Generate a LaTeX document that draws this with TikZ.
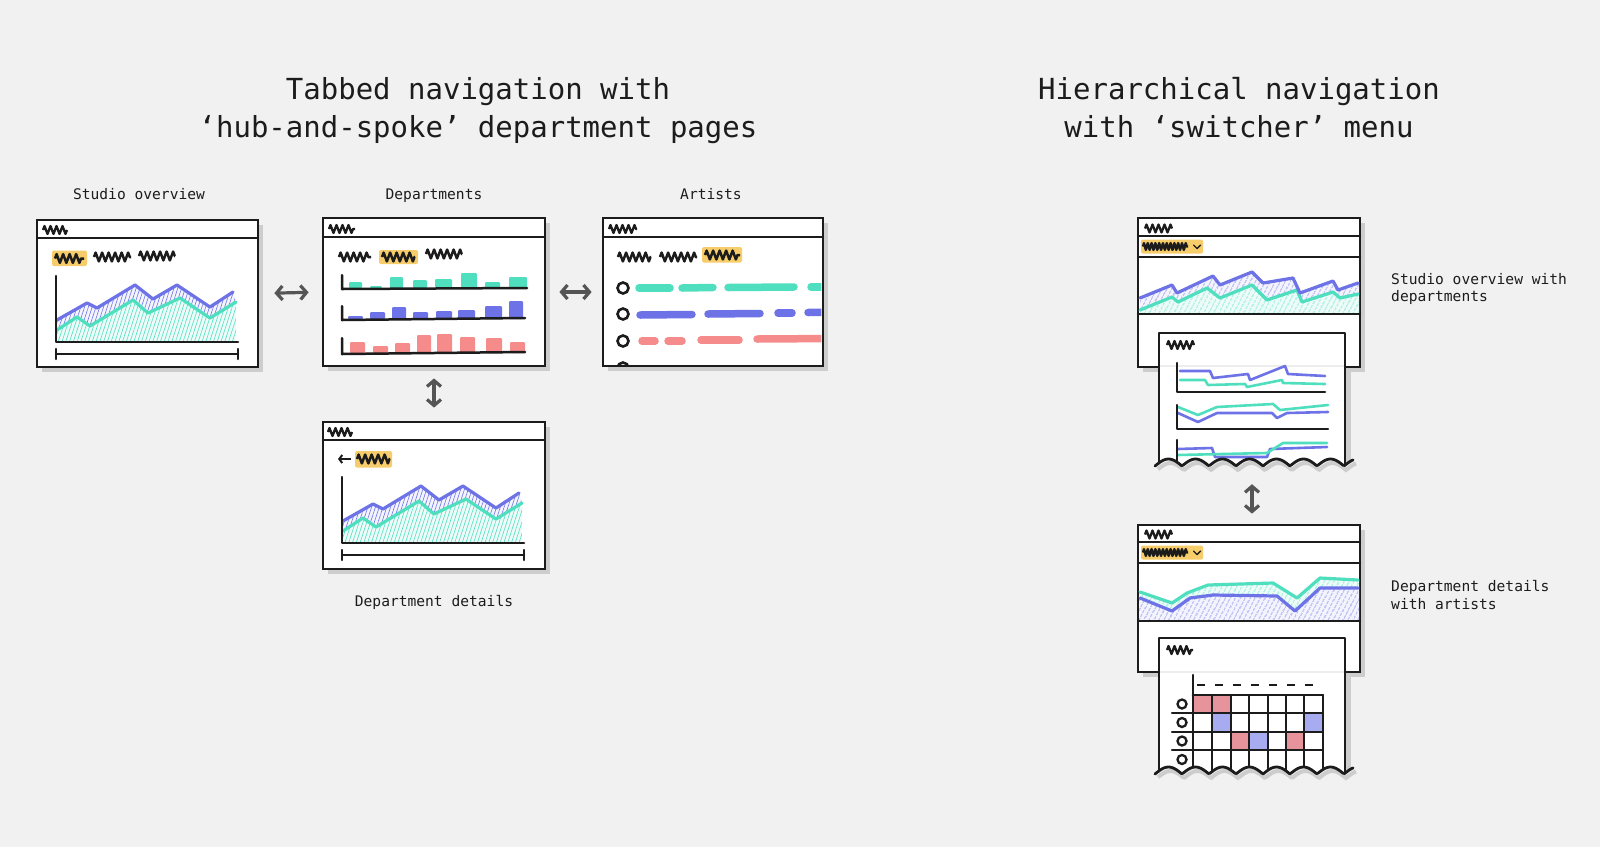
\documentclass[tikz,border=0pt]{standalone}
\usepackage{fontspec}
\setmainfont{DejaVu Sans Mono}
\setmonofont{DejaVu Sans Mono}
\usetikzlibrary{arrows.meta,decorations.pathmorphing,patterns.meta,shadows}

\definecolor{bgc}{HTML}{F1F1F1}
\definecolor{ink}{HTML}{1C1C1C}
\definecolor{tealc}{HTML}{4FDFBF}
\definecolor{purc}{HTML}{6D72E6}
\definecolor{redc}{HTML}{F58B8B}
\definecolor{yelc}{HTML}{F6CD6A}
\definecolor{arrc}{HTML}{555555}
\definecolor{shadc}{HTML}{CDCDCD}
\definecolor{cellr}{HTML}{E6939B}
\definecolor{cellb}{HTML}{A7ABF0}

\tikzset{
  winbox/.style={draw=ink, line width=2.8pt, fill=white, rectangle, inner sep=0pt,
    general shadow={fill=shadc, shadow xshift=5pt, shadow yshift=-5pt}},
  anchorbox/.style={rectangle, inner sep=0pt},
  rule/.style={draw=ink, line width=2.5pt, line cap=round, line join=round},
  thinrule/.style={draw=ink, line width=2.2pt, line cap=round},
  scrib/.style={draw=ink, line width=2.5pt, line join=round, decorate,
    decoration={zigzag, segment length=6.5pt, amplitude=4.4pt}},
  hdr/.style={draw=ink, line width=2.3pt, line join=round, decorate,
    decoration={zigzag, segment length=6pt, amplitude=4pt}},
  dense/.style={draw=ink, line width=2.4pt, line join=round, decorate,
    decoration={zigzag, segment length=3.8pt, amplitude=3.4pt}},
  hilite/.style={fill=yelc, rounded corners=2pt},
  navarrow/.style={draw=arrc, line width=3.2pt,
    {Straight Barb[length=6pt,width=14pt]}-{Straight Barb[length=6pt,width=14pt]}},
  pline/.style={draw=purc, line width=3.2pt, line join=round, line cap=round},
  tline/.style={draw=tealc, line width=3.2pt, line join=round, line cap=round},
  pthin/.style={draw=purc, line width=2.6pt, line join=round, line cap=round},
  tthin/.style={draw=tealc, line width=2.6pt, line join=round, line cap=round},
  hatchT/.style={pattern={Lines[angle=72,distance=3.6pt,line width=0.6pt]}, pattern color=tealc},
  hatchP/.style={pattern={Lines[angle=72,distance=3.6pt,line width=0.6pt]}, pattern color=purc},
  hatchTb/.style={pattern={Lines[angle=62,distance=4pt,line width=0.7pt]}, pattern color=tealc},
  hatchPb/.style={pattern={Lines[angle=62,distance=4pt,line width=0.7pt]}, pattern color=purc},
  dashrow/.style={line width=7.5pt, line cap=round},
  circ/.style={draw=ink, line width=2.6pt},
  sheetedge/.style={draw=ink, line width=2.8pt, line join=round, line cap=round},
  titlef/.style={font=\fontsize{29}{37.7}\selectfont, text=ink, align=center, inner sep=0pt},
  labf/.style={font=\fontsize{14.6}{17.6}\selectfont, text=ink, inner sep=0pt},
}

\newcommand\overviewchart{%
  \path[preaction={fill=tealc!10}, hatchT] (57,330) -- (77,317) -- (90,326) -- (133,300) -- (148,313) -- (180,298) -- (210,318) -- (236,302) -- (236,342) -- (57,342) -- cycle;
  \path[preaction={fill=purc!8}, hatchP] (57,320) -- (87,303) -- (97,308) -- (135,285) -- (153,299) -- (177,285) -- (210,307) -- (233,292) -- (236,302) -- (210,318) -- (180,298) -- (148,313) -- (133,300) -- (90,326) -- (77,317) -- (57,330) -- cycle;
  \draw[tline] (57,330) -- (77,317) -- (90,326) -- (133,300) -- (148,313) -- (180,298) -- (210,318) -- (236,302);
  \draw[pline] (57,320) -- (87,303) -- (97,308) -- (135,285) -- (153,299) -- (177,285) -- (210,307) -- (233,292);
  \draw[rule] (56,276) -- (56,342) -- (238,342);
  \draw[rule] (56,354) -- (238,354);
  \draw[rule] (56,349) -- (56,359);
  \draw[rule] (238,349) -- (238,359);
}
% torn bottom edge: arches with sharp valleys
\newcommand\tornY[2]{#2-7*abs(sin((#1-1155)*6.667))}

\begin{document}
\begin{tikzpicture}[x=1pt,y=-1pt]
\useasboundingbox (0,0) rectangle (1600,847);
\fill[bgc] (0,0) rectangle (1600,847);

% ---------- titles ----------
\node[titlef, anchor=north] (t1) at (478,77.3) {Tabbed navigation with\\‘hub-and-spoke’ department pages};
\node[titlef, anchor=north] (t2) at (1239,77.3) {Hierarchical navigation\\with ‘switcher’ menu};

% ---------- labels ----------
\node[labf, anchor=base] (lA) at (139,199) {Studio overview};
\node[labf, anchor=base] (lB) at (434,199) {Departments};
\node[labf, anchor=base] (lC) at (711,199) {Artists};
\node[labf, anchor=base] (lD) at (434,606) {Department details};
\node[labf, anchor=north west, align=left] (lE) at (1391,272.9) {Studio overview with\\departments};
\node[labf, anchor=north west, align=left] (lG) at (1391,580.6) {Department details\\with artists};

% ---------- A: studio overview ----------
\node[winbox, minimum width=221pt, minimum height=147pt] (A) at (147.5,293.5) {};
\draw[rule] (37,238) -- (258,238);
\draw[hdr] (43,230) -- (67,230);
\fill[hilite] (52,250.5) rectangle (87,266);
\draw[scrib] (55,258.5) -- (84,258.5);
\draw[scrib] (94,257) -- (131,257);
\draw[scrib] (139,256) -- (175,256);
\overviewchart

% ---------- B: departments ----------
\node[winbox, minimum width=222pt, minimum height=148pt] (B) at (434,292) {};
\draw[rule] (323,237) -- (545,237);
\draw[hdr] (329,229) -- (355,229);
\draw[scrib] (339,257) -- (371,257);
\fill[hilite] (379,250) rectangle (418,264);
\draw[scrib] (382,257) -- (415,257);
\draw[scrib] (426,254) -- (462,254);
\foreach \a/\b/\t in {349/362/282,370/382/286,390/403/277,413/427/280,435/452/279,461/477/273,485/500/282,509/527/277}
  \fill[tealc, rounded corners=1pt] (\a,\t) rectangle (\b,288);
\foreach \a/\b/\t in {348/363/316,370/385/312,392/406/307,413/428/312,436/452/311,458/475/310,485/502/306,509/523/301}
  \fill[purc, rounded corners=1pt] (\a,\t) rectangle (\b,319);
\foreach \a/\b/\t in {350/365/342,373/388/346,395/410/343,417/431/335,437/452/334,460/475/337,486/502/338,510/525/342}
  \fill[redc, rounded corners=1pt] (\a,\t) rectangle (\b,353);
\draw[rule] (342,275) -- (342,289) -- (527,288);
\draw[rule] (342,306) -- (342,320) -- (525,318);
\draw[rule] (342,338) -- (342,354) -- (525,352);

% ---------- C: artists ----------
\node[winbox, minimum width=220pt, minimum height=148pt] (C) at (713,292) {};
\draw[rule] (603,237) -- (823,237);
\draw[hdr] (609,229) -- (637,229);
\draw[scrib] (618,257) -- (651,257);
\draw[scrib] (660,257) -- (697,257);
\fill[hilite] (702,247) rectangle (742,262.5);
\draw[scrib] (705,255) -- (740,255);
\begin{scope}
  \clip (604,239) rectangle (821.4,364.6);
  \draw[dashrow, tealc] (639,288) -- (670,288);
  \draw[dashrow, tealc] (682,288) -- (713,287.5);
  \draw[dashrow, tealc] (728,287.5) -- (794,287);
  \draw[dashrow, tealc] (811,287) -- (835,287);
  \draw[dashrow, purc] (640,315) -- (692,314.5);
  \draw[dashrow, purc] (708,314) -- (760,313.5);
  \draw[dashrow, purc] (778,313) -- (792,313);
  \draw[dashrow, purc] (808,312.5) -- (835,312);
  \draw[dashrow, redc] (642,341) -- (655,341);
  \draw[dashrow, redc] (668,341) -- (682,341);
  \draw[dashrow, redc] (701,340) -- (739,340);
  \draw[dashrow, redc] (757,339) -- (835,338.5);
  \foreach \yy in {288,314,341,368} \draw[circ] (623,\yy) circle (5.5);
\end{scope}

% ---------- D: department details ----------
\node[winbox, minimum width=222pt, minimum height=147pt] (D) at (434,495.5) {};
\draw[rule] (323,440) -- (545,440);
\draw[hdr] (328,432) -- (352,432);
\draw[draw=ink, line width=2pt, -{Straight Barb[length=3pt,width=8pt]}] (351,459) -- (338,459);
\fill[hilite] (355,451) rectangle (392,467.5);
\draw[scrib] (357,459) -- (390,459);
\begin{scope}[shift={(286,201)}]
  \overviewchart
\end{scope}

% ---------- E: studio overview with departments (back) ----------
\node[winbox, minimum width=222pt, minimum height=149pt] (E) at (1249,292.5) {};
\path[preaction={fill=tealc!10}, hatchTb] (1140,310) -- (1172,297) -- (1178,302) -- (1207,288) -- (1220,298) -- (1252,285) -- (1267,300) -- (1297,290) -- (1302,302) -- (1333,292) -- (1340,298) -- (1359,294) -- (1359,313) -- (1140,313) -- cycle;
\path[preaction={fill=purc!8}, hatchPb] (1140,298) -- (1172,285) -- (1177,293) -- (1213,276) -- (1220,285) -- (1252,272) -- (1263,283) -- (1293,278) -- (1300,293) -- (1333,281) -- (1338,290) -- (1359,283) -- (1359,294) -- (1340,298) -- (1333,292) -- (1302,302) -- (1297,290) -- (1267,300) -- (1252,285) -- (1220,298) -- (1207,288) -- (1178,302) -- (1172,297) -- (1140,310) -- cycle;
\draw[tline] (1140,310) -- (1172,297) -- (1178,302) -- (1207,288) -- (1220,298) -- (1252,285) -- (1267,300) -- (1297,290) -- (1302,302) -- (1333,292) -- (1340,298) -- (1358,294);
\draw[pline] (1140,298) -- (1172,285) -- (1177,293) -- (1213,276) -- (1220,285) -- (1252,272) -- (1263,283) -- (1293,278) -- (1300,293) -- (1333,281) -- (1338,290) -- (1358,283);
\draw[rule] (1138,236) -- (1360,236);
\draw[rule] (1138,257) -- (1360,257);
\draw[rule] (1138,314) -- (1360,314);
\draw[hdr] (1145,228.5) -- (1172,228.5);
\fill[hilite] (1141,239.5) rectangle (1203,253.5);
\draw[dense] (1143,246.5) -- (1188,246.5);
\draw[draw=ink, line width=1.4pt, line cap=round, line join=round] (1193.5,245) -- (1197,248.5) -- (1200.5,245);

% ---------- F: front sheet (departments) ----------
\node[anchorbox, minimum width=186pt, minimum height=129pt] (F) at (1252,397.5) {};
\fill[shadc] (1345,369) rectangle (1351,462);
\draw[shadc, line width=4pt] plot[domain=1158:1356, samples=120] (\x,{\tornY{\x-2}{470}});
\fill[white] (1159,333) -- (1345,333) -- (1345,465) -- plot[domain=1345:1159, samples=120] (\x,{\tornY{\x}{466}}) -- cycle;
\begin{scope}
  \clip (1160,334) -- (1344,334) -- (1344,465) -- plot[domain=1344:1160, samples=120] (\x,{\tornY{\x}{466}}) -- cycle;
  \draw[black!7, line width=2pt] (1160,366) -- (1344,366);
  \draw[hdr] (1167,345) -- (1194,345);
  \draw[pthin] (1180,371) -- (1210,371) -- (1213,378) -- (1248,374) -- (1250,380) -- (1285,366) -- (1288,374) -- (1325,376);
  \draw[tthin] (1180,380) -- (1205,380) -- (1208,385) -- (1245,384) -- (1247,387) -- (1282,380) -- (1283,383) -- (1325,384);
  \draw[rule] (1177,363) -- (1177,392) -- (1325,392);
  \draw[tthin] (1178,407) -- (1198,415) -- (1217,407) -- (1273,404) -- (1280,410) -- (1328,405);
  \draw[pthin] (1178,413) -- (1198,422) -- (1217,413) -- (1272,413) -- (1277,418) -- (1287,413) -- (1328,412);
  \draw[rule] (1177,405) -- (1177,429) -- (1328,429);
  \draw[pthin] (1178,449) -- (1212,448) -- (1215,457) -- (1267,457) -- (1270,449) -- (1327,447);
  \draw[tthin] (1178,455) -- (1267,453) -- (1283,443) -- (1327,443);
  \draw[rule] (1177,440) -- (1177,480);
\end{scope}
\draw[sheetedge] (1159,463) -- (1159,333) -- (1345,333) -- (1345,465);
\draw[sheetedge] plot[domain=1155:1353, samples=120] (\x,{\tornY{\x}{466}});

% ---------- G: department details with artists (back) ----------
\node[winbox, minimum width=222pt, minimum height=147pt] (G) at (1249,598.5) {};
\path[preaction={fill=purc!8}, hatchPb] (1139,598) -- (1172,611) -- (1190,598) -- (1213,595) -- (1277,596) -- (1295,611) -- (1320,588) -- (1359,588) -- (1359,620) -- (1139,620) -- cycle;
\path[preaction={fill=tealc!10}, hatchTb] (1139,592) -- (1172,603) -- (1187,593) -- (1208,585) -- (1273,583) -- (1297,598) -- (1320,578) -- (1359,580) -- (1359,588) -- (1320,588) -- (1295,611) -- (1277,596) -- (1213,595) -- (1190,598) -- (1172,611) -- (1139,598) -- cycle;
\draw[tline] (1140,592) -- (1172,603) -- (1187,593) -- (1208,585) -- (1273,583) -- (1297,598) -- (1320,578) -- (1358,580);
\draw[pline] (1140,598) -- (1172,611) -- (1190,598) -- (1213,595) -- (1277,596) -- (1295,611) -- (1320,588) -- (1358,588);
\draw[rule] (1138,542) -- (1360,542);
\draw[rule] (1138,563) -- (1360,563);
\draw[rule] (1138,621) -- (1360,621);
\draw[hdr] (1145,534.5) -- (1172,534.5);
\fill[hilite] (1141,545.5) rectangle (1203,559.5);
\draw[dense] (1143,552.5) -- (1188,552.5);
\draw[draw=ink, line width=1.4pt, line cap=round, line join=round] (1193.5,551) -- (1197,554.5) -- (1200.5,551);

% ---------- H: front sheet (artists grid) ----------
\node[anchorbox, minimum width=186pt, minimum height=134pt] (H) at (1252,705) {};
\fill[shadc] (1345,674) rectangle (1351,770);
\draw[shadc, line width=4pt] plot[domain=1158:1356, samples=120] (\x,{\tornY{\x-2}{778}});
\fill[white] (1159,638) -- (1345,638) -- (1345,773) -- plot[domain=1345:1159, samples=120] (\x,{\tornY{\x}{774}}) -- cycle;
\begin{scope}
  \clip (1160,639) -- (1344,639) -- (1344,773) -- plot[domain=1344:1160, samples=120] (\x,{\tornY{\x}{774}}) -- cycle;
  \draw[black!7, line width=2pt] (1160,672) -- (1344,672);
  \draw[hdr] (1167,650) -- (1193,650);
  \fill[cellr] (1192.7,695) rectangle (1211.7,713.3);
  \fill[cellr] (1211.7,695) rectangle (1230.7,713.3);
  \fill[cellb] (1211.7,713.3) rectangle (1230.7,731.7);
  \fill[cellb] (1304.3,713.3) rectangle (1322.7,731.7);
  \fill[cellr] (1230.7,731.7) rectangle (1249,750);
  \fill[cellb] (1249,731.7) rectangle (1267.7,750);
  \fill[cellr] (1286,731.7) rectangle (1304.3,750);
  \draw[draw=ink, line width=2.2pt, dash pattern=on 8pt off 10pt] (1197,685) -- (1318,685);
  \draw[thinrule] (1192.7,675) -- (1192.7,790);
  \foreach \cx in {1211.7,1230.7,1249,1267.7,1286,1304.3,1322.7}
    \draw[thinrule] (\cx,695) -- (\cx,790);
  \draw[thinrule] (1192.7,695) -- (1322.7,695);
  \foreach \ry in {713.3,731.7,750}
    \draw[thinrule] (1172,\ry) -- (1322.7,\ry);
  \foreach \cy in {704,722.5,741,759.5}
    \draw[draw=ink, line width=2.3pt] (1182,\cy) circle (4.5);
\end{scope}
\draw[sheetedge] (1159,771) -- (1159,638) -- (1345,638) -- (1345,773);
\draw[sheetedge] plot[domain=1155:1353, samples=120] (\x,{\tornY{\x}{774}});

% ---------- connectors ----------
\draw[navarrow, shorten <=15pt, shorten >=13pt] (A.east) -- (B.west);
\draw[navarrow, shorten <=13pt, shorten >=10pt] (B.east) -- (C.west);
\draw[navarrow, shorten <=11pt, shorten >=13pt] (B.south) -- (D.north);
\draw[navarrow, shorten <=22pt, shorten >=10pt] (F.south) -- (F.south |- G.north);
\end{tikzpicture}
\end{document}
